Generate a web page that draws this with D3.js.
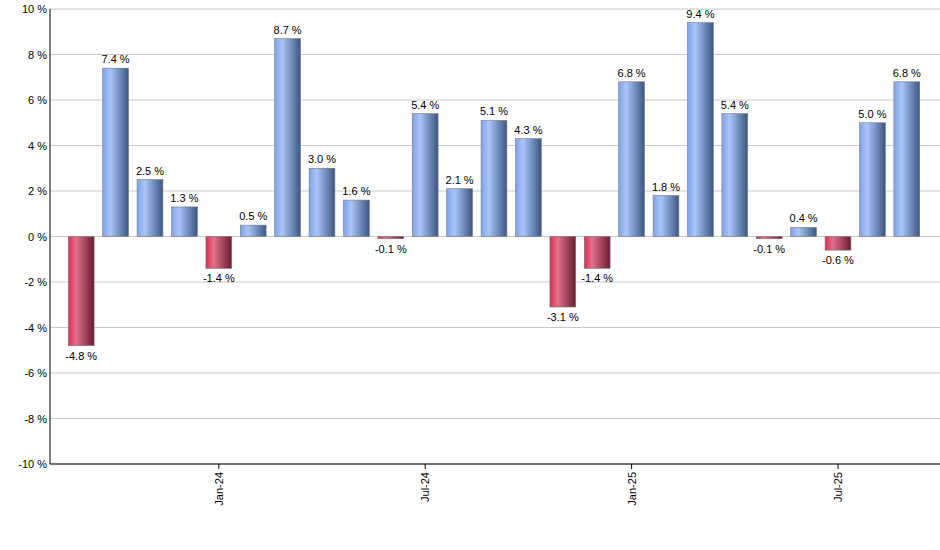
<!DOCTYPE html><html><head><script src="https://cdn.jsdelivr.net/npm/d3@7"></script>
<style>body{margin:0;background:#fff}</style></head><body><svg id="c" width="940" height="550"></svg><script>
const months=["Sep-23","Oct-23","Nov-23","Dec-23","Jan-24","Feb-24","Mar-24","Apr-24","May-24","Jun-24","Jul-24","Aug-24","Sep-24","Oct-24","Nov-24","Dec-24","Jan-25","Feb-25","Mar-25","Apr-25","May-25","Jun-25","Jul-25","Aug-25","Sep-25"];
const values=[-4.8,7.4,2.5,1.3,-1.4,0.5,8.7,3.0,1.6,-0.1,5.4,2.1,5.1,4.3,-3.1,-1.4,6.8,1.8,9.4,5.4,-0.1,0.4,-0.6,5.0,6.8];
const tickLabels=["Jan-24","Jul-24","Jan-25","Jul-25"];
const yTicks=d3.range(-10,11,2);
const svg=d3.select("#c");
const L=50,R=940,T=9,B=464;
const x=d3.scaleBand().domain(months).range([64,924]).paddingInner(0.25).paddingOuter(0.125);
const y=d3.scaleLinear().domain([-10,10]).range([B,T]);
const defs=svg.append("defs");
function grad(id,stops){const g=defs.append("linearGradient").attr("id",id).attr("x1","0").attr("x2","1");stops.forEach(s=>g.append("stop").attr("offset",s[0]).attr("stop-color",s[1]));}
grad("gb",[[0,"#7ea3ec"],[0.3,"#a9c5fa"],[1,"#3b5682"]]);
grad("gr",[[0,"#e22a4e"],[0.3,"#e17189"],[1,"#6b1c30"]]);
svg.append("g").selectAll("line").data(yTicks).join("line").attr("x1",L).attr("x2",R).attr("y1",d=>y(d)).attr("y2",d=>y(d)).attr("stroke","#c8c8c8");
svg.append("g").selectAll("text").data(yTicks).join("text").attr("x",L-3).attr("y",d=>y(d)+4).attr("text-anchor","end").attr("font-family","Arial, Liberation Sans").attr("font-size",11).text(d=>d+" %");
svg.append("g").selectAll("rect").data(values).join("rect").attr("x",(d,i)=>x(months[i])).attr("width",x.bandwidth())
 .attr("y",d=>y(Math.max(0,d))).attr("height",d=>Math.abs(y(d)-y(0))).attr("fill",d=>d<0?"url(#gr)":"url(#gb)").attr("stroke","#777").attr("stroke-width",0.6);
svg.append("g").selectAll("text").data(values).join("text").attr("x",(d,i)=>x(months[i])+x.bandwidth()/2).attr("y",d=>d<0?y(d)+14:y(d)-5)
 .attr("text-anchor","middle").attr("font-family","Arial, Liberation Sans").attr("font-size",11).text(d=>d.toFixed(1)+" %");
svg.append("line").attr("x1",L).attr("x2",L).attr("y1",T).attr("y2",B).attr("stroke","#000");
svg.append("line").attr("x1",L).attr("x2",R).attr("y1",B).attr("y2",B).attr("stroke","#000");
tickLabels.forEach(t=>{const cx=x(t)+x.bandwidth()/2;
 svg.append("line").attr("x1",cx).attr("x2",cx).attr("y1",B).attr("y2",B+5).attr("stroke","#000");
 svg.append("text").attr("transform",`translate(${cx+4},${B+8}) rotate(-90)`).attr("text-anchor","end").attr("font-family","Arial, Liberation Sans").attr("font-size",11).text(t);});
</script></body></html>
